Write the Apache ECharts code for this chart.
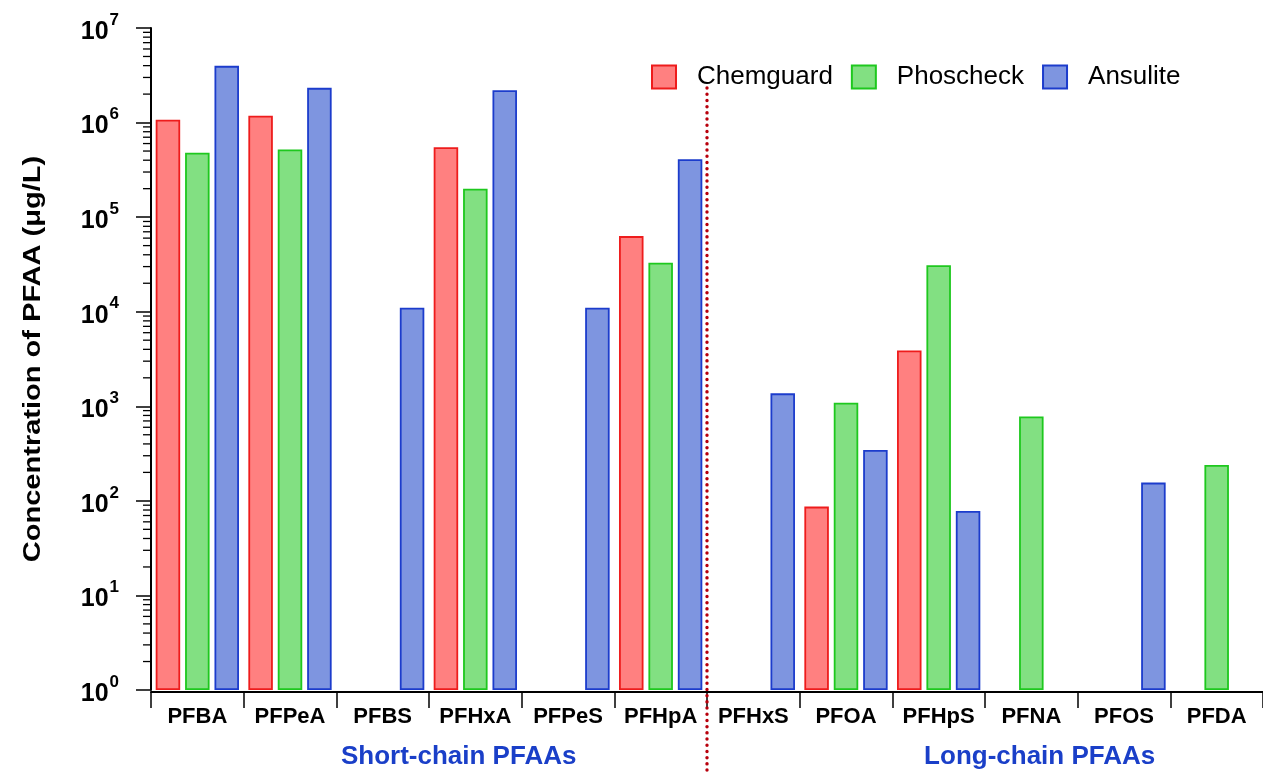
<!DOCTYPE html>
<html>
<head>
<meta charset="utf-8">
<title>PFAA concentrations in AFFF products</title>
<script src="https://cdn.jsdelivr.net/npm/echarts@6/dist/echarts.min.js"></script>
<style>
  html, body { margin: 0; padding: 0; background: #fff; }
  #chart { width: 1263px; height: 773px; }
</style>
</head>
<body>
<div id="chart"></div>
<script>
// PFAA analytes, short-chain first then long-chain
const categories = ['PFBA', 'PFPeA', 'PFBS', 'PFHxA', 'PFPeS', 'PFHpA',
                    'PFHxS', 'PFOA', 'PFHpS', 'PFNA', 'PFOS', 'PFDA'];
const shortChainCount = 6;

// Concentrations in µg/L (null = not detected)
const chemguard = [1.07e6, 1.18e6, null, 5.5e5, null, 6.3e4, null, 87, 3.9e3, null, null, null];
const phoscheck = [4.8e5, 5.2e5, null, 2.0e5, null, 3.3e4, null, 1.09e3, 3.1e4, 780, null, 240];
const ansulite  = [3.98e6, 2.33e6, 1.1e4, 2.2e6, 1.1e4, 4.1e5, 1.37e3, 345, 78, null, 156, null];

// Log axis range (decades) and minor tick multipliers
const yMin = 1;
const yMax = 1e7;
const minorSteps = [2, 3, 4, 5, 6, 7, 8, 9];

const yTitle = 'Concentration of PFAA (μg/L)';
const groupLabels = ['Short-chain PFAAs', 'Long-chain PFAAs'];

const FONT = '"Liberation Sans", Arial, Helvetica, sans-serif';

const minorTicks = [];
for (let d = yMin; d < yMax; d *= 10) {
  minorSteps.forEach(m => minorTicks.push([0, m * d]));
}

const chart = echarts.init(document.getElementById('chart'), null, { renderer: 'canvas' });

function barSeries(name, data, fill, stroke) {
  return {
    name: name,
    type: 'bar',
    data: data,
    barWidth: 24.5,
    barGap: '20%',
    itemStyle: { color: fill, borderColor: stroke, borderWidth: 1.8 },
    emphasis: { disabled: true }
  };
}

const option = {
  animation: false,
  backgroundColor: '#fff',
  textStyle: { fontFamily: FONT },
  grid: { left: 151, top: 28, width: 1115, height: 662, containLabel: false },
  legend: {
    data: ['Chemguard', 'Phoscheck', 'Ansulite'],
    left: 651,
    top: 64,
    padding: 0,
    icon: 'rect',
    itemWidth: 24,
    itemHeight: 23,
    itemGap: 18,
    selectedMode: false,
    textStyle: { fontSize: 26, color: '#000', fontFamily: FONT, padding: [0, 0, 0, 16] }
  },
  xAxis: {
    type: 'category',
    data: categories,
    offset: 2,
    axisLine: { lineStyle: { color: '#000', width: 2 } },
    axisTick: { show: true, length: 16, lineStyle: { color: '#000', width: 1.5 } },
    axisLabel: { margin: 14, fontSize: 22, fontWeight: 'bold', color: '#000', fontFamily: FONT, interval: 0 },
    splitLine: { show: false }
  },
  yAxis: {
    type: 'log',
    logBase: 10,
    min: yMin,
    max: yMax,
    splitNumber: 7,
    axisLine: { show: true, lineStyle: { color: '#000', width: 2 } },
    axisTick: { show: true, length: 15, lineStyle: { color: '#000', width: 1.5 } },
    minorTick: { show: false },
    splitLine: { show: false },
    axisLabel: {
      margin: 32,
      formatter: function (v) {
        const e = Math.round(Math.log10(v));
        // spacer sets the line height so the base sits low and the exponent high
        return '{h| }{b|10}{s|' + e + '}';
      },
      rich: {
        h: { fontSize: 1, lineHeight: 33 },
        b: { fontSize: 25, fontWeight: 'bold', color: '#000', fontFamily: FONT, lineHeight: 25, verticalAlign: 'bottom' },
        s: { fontSize: 17, fontWeight: 'bold', color: '#000', fontFamily: FONT, lineHeight: 17, verticalAlign: 'top', padding: [0, 0, 0, 1] }
      }
    }
  },
  series: [
    barSeries('Chemguard', chemguard, '#ff8080', '#ee1c1c'),
    barSeries('Phoscheck', phoscheck, '#82e082', '#1ec81e'),
    barSeries('Ansulite', ansulite, '#7e95e0', '#1c3ccc'),
    {
      // minor ticks of the log axis at 2..9 within each decade
      type: 'custom',
      coordinateSystem: 'cartesian2d',
      silent: true,
      clip: false,
      data: minorTicks,
      renderItem: function (params, api) {
        const y = api.coord([0, api.value(1)])[1];
        const x = params.coordSys.x;
        return {
          type: 'line',
          shape: { x1: x - 8, y1: y, x2: x, y2: y },
          style: { stroke: '#000', lineWidth: 1.3 }
        };
      }
    }
  ]
};

chart.setOption(option);

// Divider between short- and long-chain groups, group captions and axis title
const leftCenter = chart.convertToPixel({ xAxisIndex: 0 }, categories[shortChainCount - 1]);
const rightCenter = chart.convertToPixel({ xAxisIndex: 0 }, categories[shortChainCount]);
const dividerX = (leftCenter + rightCenter) / 2;
const firstX = chart.convertToPixel({ xAxisIndex: 0 }, categories[0]);
const lastX = chart.convertToPixel({ xAxisIndex: 0 }, categories[categories.length - 1]);
const band = rightCenter - leftCenter;
const topY = chart.convertToPixel({ yAxisIndex: 0 }, yMax);
const bottomY = chart.convertToPixel({ yAxisIndex: 0 }, yMin);

chart.setOption({
  graphic: [
    {
      type: 'line',
      silent: true,
      shape: { x1: dividerX, y1: topY + 60, x2: dividerX, y2: 773 },
      style: { stroke: '#b8000c', lineWidth: 3.4, lineDash: [0.1, 6.1], lineCap: 'round' },
      z: 10
    },
    {
      type: 'text',
      silent: true,
      x: (firstX + leftCenter) / 2 + band * 0.32,
      y: 757,
      style: {
        text: groupLabels[0], fill: '#1a3fc8', font: 'bold 26px ' + FONT,
        align: 'center', verticalAlign: 'middle'
      }
    },
    {
      type: 'text',
      silent: true,
      x: (rightCenter + lastX) / 2 + band * 0.59,
      y: 757,
      style: {
        text: groupLabels[1], fill: '#1a3fc8', font: 'bold 26px ' + FONT,
        align: 'center', verticalAlign: 'middle'
      }
    },
    {
      type: 'text',
      silent: true,
      x: 33,
      y: (topY + bottomY) / 2,
      rotation: Math.PI / 2,
      scaleX: 1.21,
      style: {
        text: yTitle, fill: '#000', font: 'bold 24px ' + FONT,
        align: 'center', verticalAlign: 'middle'
      }
    }
  ]
});
</script>
</body>
</html>
